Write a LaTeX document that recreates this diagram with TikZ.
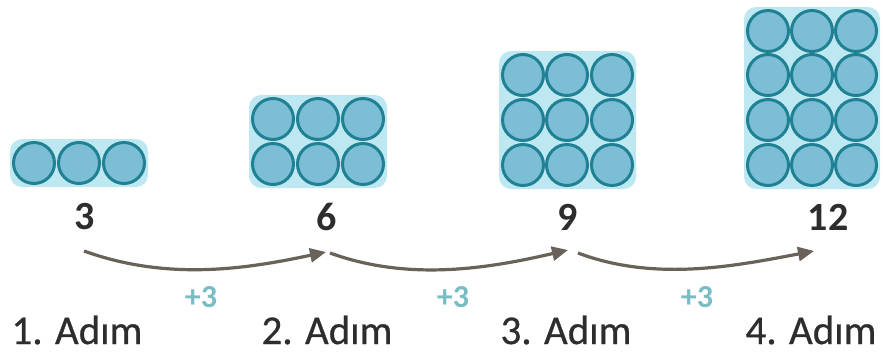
\documentclass[tikz,border=0pt]{standalone}
\usepackage{fontspec}
\setmainfont{Carlito}
\newfontfamily\semifont[FakeBold=0.6]{Carlito}
\usetikzlibrary{arrows.meta}
\definecolor{ball}{RGB}{124,190,214}
\definecolor{ballrim}{RGB}{32,128,148}
\definecolor{halo}{RGB}{190,232,241}
\definecolor{txt}{RGB}{45,45,45}
\definecolor{arr}{RGB}{105,98,88}
\definecolor{plus}{RGB}{120,188,196}
\tikzset{
  ballnode/.style={circle, fill=ball, draw=ballrim, line width=3pt, minimum size=41pt, inner sep=0pt},
  halobox/.style={fill=halo, rounded corners=12pt},
  numlbl/.style={font=\bfseries\fontsize{40}{40}\selectfont, text=txt, inner sep=0pt},
  steplbl/.style={font=\semifont\fontsize{41}{41}\selectfont, text=txt, inner sep=0pt},
  pluslbl/.style={font=\bfseries\fontsize{32}{32}\selectfont, text=plus, inner sep=0pt},
  arrowline/.style={draw=arr, line width=3.2pt, -{Triangle[length=16pt,width=14pt]}}
}
\begin{document}
\begin{tikzpicture}[x=1pt,y=-1pt]
\useasboundingbox (0,0) rectangle (885,360);
% halos
\fill[halobox] (10,139) rectangle (148,187);
\fill[halobox] (249,95) rectangle (387,188);
\fill[halobox] (499,51) rectangle (636,189);
\fill[halobox] (744,7) rectangle (880,189);
% step 1
\foreach \i/\x in {1/34,2/79,3/124}{
  \node[ballnode] (a\i) at (\x,163) {};
}
% step 2
\foreach \r/\y in {1/119,2/164}{
  \foreach \c/\x in {1/273,2/318,3/363}{
    \node[ballnode] (b\r\c) at (\x,\y) {};
  }
}
% step 3
\foreach \r/\y in {1/75,2/120,3/165}{
  \foreach \c/\x in {1/523,2/567,3/612}{
    \node[ballnode] (c\r\c) at (\x,\y) {};
  }
}
% step 4
\foreach \r/\y in {1/31,2/75,3/120,4/165}{
  \foreach \c/\x in {1/768,2/812,3/856}{
    \node[ballnode] (d\r\c) at (\x,\y) {};
  }
}
% numbers
\node[numlbl] (n1) at (85,217) {3};
\node[numlbl] (n2) at (327,217) {6};
\node[numlbl] (n3) at (568,217) {9};
\node[numlbl] (n4) at (828,217) {12};
% arrow ends
\coordinate (s1) at (84,251);
\coordinate (e1) at (326,252);
\coordinate (s2) at (330,253);
\coordinate (e2) at (568,250);
\coordinate (s3) at (578,253);
\coordinate (e3) at (814,251);
\draw[arrowline] (s1) .. controls (170,282) and (250,268) .. (e1);
\draw[arrowline] (s2) .. controls (410,282) and (490,268) .. (e2);
\draw[arrowline] (s3) .. controls (655,282) and (735,266) .. (e3);
% +3 labels
\node[pluslbl] (p1) at (201,297) {+3};
\node[pluslbl] (p2) at (453,297) {+3};
\node[pluslbl] (p3) at (697,297) {+3};
% step labels
\node[steplbl] (l1) at (77,330) {1. Adım};
\node[steplbl] (l2) at (327,330) {2. Adım};
\node[steplbl] (l3) at (566,330) {3. Adım};
\node[steplbl] (l4) at (811,330) {4. Adım};
\end{tikzpicture}
\end{document}
